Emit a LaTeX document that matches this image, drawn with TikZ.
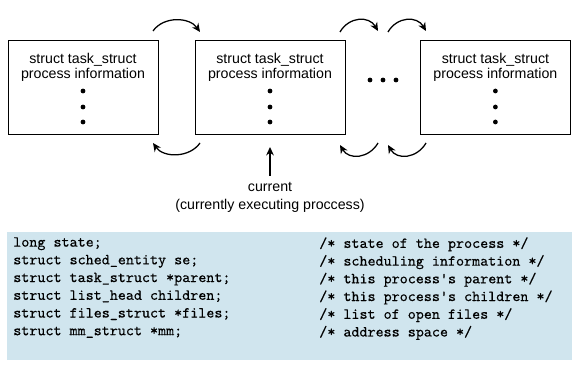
\documentclass[tikz,border=0pt]{standalone}
\usepackage{fontspec}
\setmainfont{Liberation Sans}
\setmonofont[FakeBold=0.3]{Latin Modern Mono}
\usetikzlibrary{arrows.meta}
\definecolor{code_blue}{RGB}{208, 229, 238}
\tikzstyle{task}=[rectangle,draw=black,line width=0.6pt,
  minimum width=3.75cm,minimum height=2.35cm,inner sep=0pt]
\tikzstyle{lbl}=[inner sep=0pt,anchor=base,font=\fontsize{10.1}{11}\selectfont]
\tikzstyle{dot}=[circle,fill=black,inner sep=0pt,minimum size=3.4pt]
\tikzstyle{link}=[-{Stealth[length=6pt,width=5.5pt]},line width=0.9pt]
\tikzstyle{codetext}=[inner sep=0pt,align=left,anchor=north west,
  font=\fontsize{10.9}{12.6}\selectfont\ttfamily]

\begin{document}
\begin{tikzpicture}
    \useasboundingbox (0,0) rectangle (14.525,9.325);
    % task_struct list
    \node[style=task] (t1) at (2.075, 7.15) {};
    \node[style=task] (t2) at (6.75, 7.15) {};
    \node[style=task] (t3) at (12.385, 7.15) {};
    \node[style=lbl] (t1a) at (2.075, 7.725) {struct task\_struct};
    \node[style=lbl] (t1b) at (2.075, 7.35) {process information};
    \node[style=lbl] (t2a) at (6.75, 7.725) {struct task\_struct};
    \node[style=lbl] (t2b) at (6.75, 7.35) {process information};
    \node[style=lbl] (t3a) at (12.385, 7.725) {struct task\_struct};
    \node[style=lbl] (t3b) at (12.385, 7.35) {process information};
    \node[style=dot] (t1d1) at (2.075, 7.05) {};
    \node[style=dot] (t1d2) at (2.075, 6.65) {};
    \node[style=dot] (t1d3) at (2.075, 6.275) {};
    \node[style=dot] (t2d1) at (6.75, 7.05) {};
    \node[style=dot] (t2d2) at (6.75, 6.65) {};
    \node[style=dot] (t2d3) at (6.75, 6.275) {};
    \node[style=dot] (t3d1) at (12.385, 7.05) {};
    \node[style=dot] (t3d2) at (12.385, 6.65) {};
    \node[style=dot] (t3d3) at (12.385, 6.275) {};
    \node[style=dot] (gap1) at (9.25, 7.325) {};
    \node[style=dot] (gap2) at (9.575, 7.325) {};
    \node[style=dot] (gap3) at (9.9, 7.325) {};

    % next / prev links
    \coordinate (n1s) at (3.825, 8.55);
    \coordinate (n1e) at (5.0, 8.525);
    \coordinate (n2s) at (8.5, 8.525);
    \coordinate (n2e) at (9.45, 8.55);
    \coordinate (n3s) at (9.7, 8.525);
    \coordinate (n3e) at (10.65, 8.55);
    \coordinate (p1s) at (5.0, 5.75);
    \coordinate (p1e) at (3.825, 5.75);
    \coordinate (p2s) at (9.45, 5.75);
    \coordinate (p2e) at (8.5, 5.7);
    \coordinate (p3s) at (10.65, 5.75);
    \coordinate (p3e) at (9.7, 5.7);
    \draw[style=link] (n1s) to[out=55, in=125] (n1e);
    \draw[style=link] (n2s) to[out=60, in=120, looseness=1.2] (n2e);
    \draw[style=link] (n3s) to[out=60, in=120, looseness=1.2] (n3e);
    \draw[style=link] (p1s) to[out=-125, in=-55] (p1e);
    \draw[style=link] (p2s) to[out=-120, in=-60, looseness=1.2] (p2e);
    \draw[style=link] (p3s) to[out=-120, in=-60, looseness=1.2] (p3e);

    % current pointer
    \node[style=lbl] (cur) at (6.75, 4.525) {current};
    \node[style=lbl] (cur2) at (6.75, 4.0875) {(currently executing proccess)};
    \coordinate (curbot) at (6.75, 4.925);
    \coordinate (curtop) at (6.75, 5.65);
    \draw[style=link] (curbot) -- (curtop);

    % fields of task_struct
    \node[fill=code_blue, inner sep=0pt, minimum width=14.125cm,
      minimum height=3.2cm] (fields) at (7.2375, 1.925) {};
    \node[style=codetext] (decl) at (0.325, 3.40) {long state;\\
      struct sched\_entity se;\\
      struct task\_struct *parent;\\
      struct list\_head children;\\
      struct files\_struct *files;\\
      struct mm\_struct *mm;};
    \node[style=codetext] (notes) at (7.975, 3.40) {/* state of the process */\\
      /* scheduling information */\\
      /* this process's parent */\\
      /* this process's children */\\
      /* list of open files */\\
      /* address space */};
\end{tikzpicture}
\end{document}
